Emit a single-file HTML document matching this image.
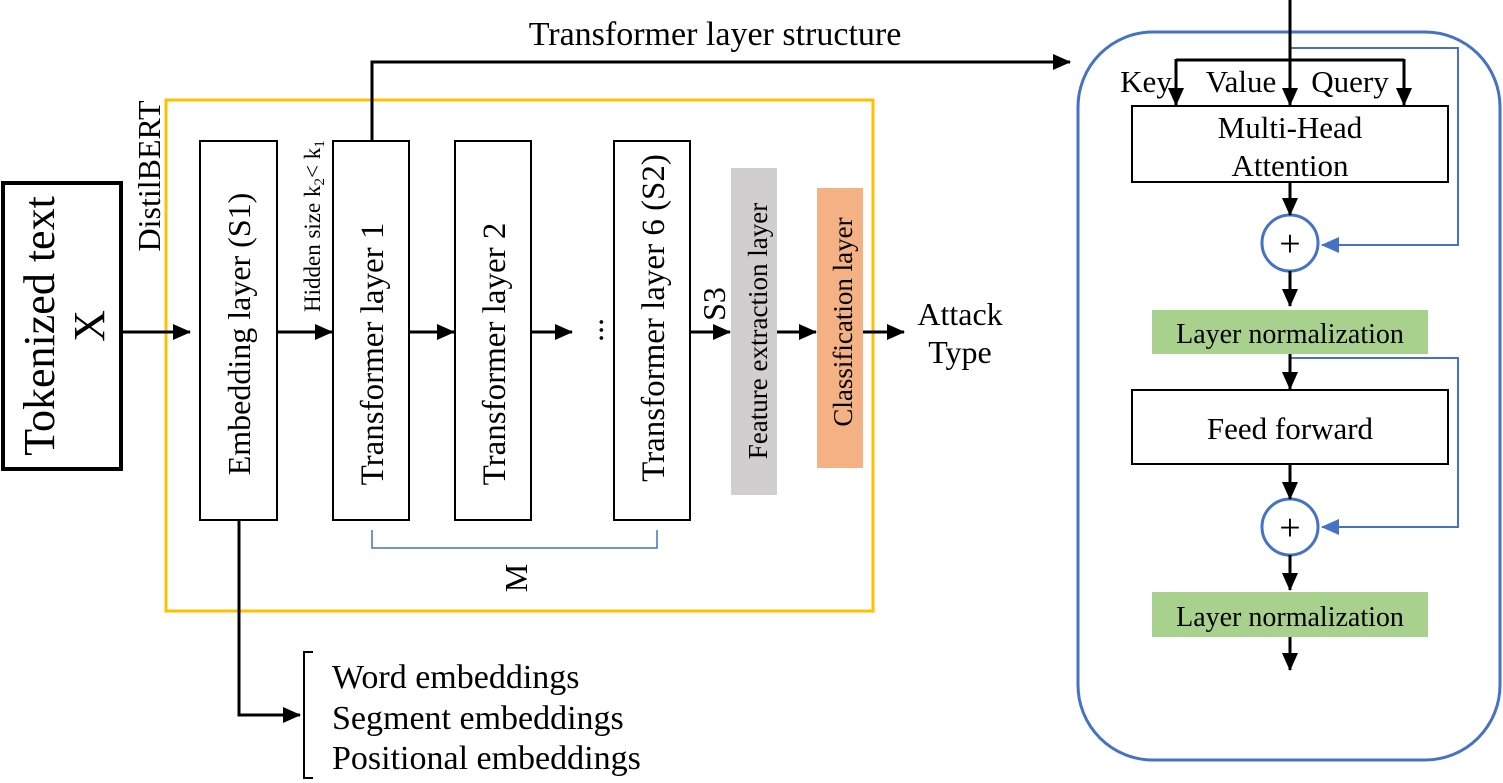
<!DOCTYPE html>
<html><head><style>body{margin:0;background:#fff}svg{display:block}text{font-family:"Liberation Serif",serif;fill:#000}</style></head><body>
<svg width="1503" height="783" viewBox="0 0 1503 783" xmlns="http://www.w3.org/2000/svg">
<defs>
<marker id="ab" markerWidth="18" markerHeight="18" refX="17" refY="9" orient="auto" markerUnits="userSpaceOnUse" viewBox="0 0 18 18"><path d="M0,1L18,9L0,17z" fill="#000"/></marker>
<marker id="bb" markerWidth="18" markerHeight="18" refX="17" refY="9" orient="auto" markerUnits="userSpaceOnUse" viewBox="0 0 18 18"><path d="M0,1L18,9L0,17z" fill="#4472c4"/></marker>
</defs>
<g stroke="#000" stroke-width="3" fill="none">
<rect x="3" y="183" width="118" height="286" stroke-width="4"/>
<rect x="166" y="100" width="707" height="511" stroke="#ffc000" stroke-width="3"/>
<rect x="200" y="141" width="77" height="379" stroke-width="2"/>
<rect x="333" y="141" width="76" height="379" stroke-width="2"/>
<rect x="455" y="141" width="76" height="379" stroke-width="2"/>
<rect x="614" y="141" width="76" height="379" stroke-width="2"/>
<line x1="121" y1="332" x2="190" y2="332" marker-end="url(#ab)"/>
<line x1="277" y1="332" x2="332" y2="332" marker-end="url(#ab)"/>
<line x1="409" y1="332" x2="454" y2="332" marker-end="url(#ab)"/>
<line x1="531" y1="332" x2="572" y2="332" marker-end="url(#ab)"/>
<line x1="690" y1="332" x2="730" y2="332" marker-end="url(#ab)"/>
<line x1="777" y1="332" x2="816" y2="332" marker-end="url(#ab)"/>
<line x1="863" y1="332" x2="904" y2="332" marker-end="url(#ab)"/>
<polyline points="372,141 372,62 1070,62" marker-end="url(#ab)"/>
<polyline points="239,520 239,715 300,715" marker-end="url(#ab)"/>
<polyline points="313,652 304,652 304,778 313,778" stroke-width="2"/>
</g>
<rect x="731" y="168" width="46" height="327" fill="#d0cece"/>
<rect x="817" y="188" width="46" height="280" fill="#f4b183"/>
<path d="M372,530 v18 h285 v-18" stroke="#4472c4" stroke-width="1.5" fill="none"/>
<g font-size="44" text-anchor="middle">
<text transform="translate(54,326) rotate(-90)">Tokenized text</text>
<text transform="translate(104,326) rotate(-90)">X</text>
</g>
<g font-size="32" text-anchor="middle">
<text transform="translate(160,176) rotate(-90)">DistilBERT</text>
<text transform="translate(250,334) rotate(-90)">Embedding layer (S1)</text>
<text transform="translate(383,354) rotate(-90)" font-size="33">Transformer layer 1</text>
<text transform="translate(505,354) rotate(-90)" font-size="33">Transformer layer  2</text>
<text transform="translate(664,318) rotate(-90)" font-size="33">Transformer layer  6 (S2)</text>
<text transform="translate(603,330) rotate(-90)">...</text>
<text transform="translate(725,304) rotate(-90)">S3</text>
<text transform="translate(767,331) rotate(-90)" font-size="27">Feature extraction layer</text>
<text transform="translate(852,322) rotate(-90)" font-size="27">Classification layer</text>
<text x="960" y="325">Attack</text>
<text x="960" y="363">Type</text>
<text x="715" y="45" font-size="34">Transformer layer structure</text>
<text transform="translate(527,578) rotate(-90)">M</text>
</g>
<text transform="translate(320,312) rotate(-90)" font-size="23">Hidden size k<tspan font-size="15" dy="4">2</tspan><tspan dy="-4">&lt; k</tspan><tspan font-size="15" dy="4">1</tspan></text>
<g font-size="34">
<text x="332" y="688">Word embeddings</text>
<text x="332" y="729">Segment embeddings</text>
<text x="332" y="769">Positional embeddings</text>
</g>
<rect x="1078" y="32" width="422" height="728" rx="75" fill="none" stroke="#4472c4" stroke-width="3"/>
<g stroke="#4472c4" stroke-width="2" fill="none">
<polyline points="1290,48 1458,48 1458,245 1322,245" marker-end="url(#bb)"/>
<polyline points="1290,358 1458,358 1458,527 1322,527" marker-end="url(#bb)"/>
<circle cx="1290" cy="243" r="28" stroke-width="3"/>
<circle cx="1290" cy="527" r="28" stroke-width="3"/>
</g>
<g stroke="#000" stroke-width="3" fill="none">
<line x1="1290" y1="0" x2="1290" y2="105" marker-end="url(#ab)"/>
<polyline points="1176,60 1404,60" />
<line x1="1176" y1="59" x2="1176" y2="105" marker-end="url(#ab)"/>
<line x1="1404" y1="59" x2="1404" y2="105" marker-end="url(#ab)"/>
<rect x="1132" y="106" width="316" height="76" stroke-width="2"/>
<line x1="1290" y1="182" x2="1290" y2="215" marker-end="url(#ab)"/>
<line x1="1290" y1="271" x2="1290" y2="306" marker-end="url(#ab)"/>
<line x1="1290" y1="354" x2="1290" y2="389" marker-end="url(#ab)"/>
<rect x="1132" y="390" width="316" height="74" stroke-width="2"/>
<line x1="1290" y1="464" x2="1290" y2="499" marker-end="url(#ab)"/>
<line x1="1290" y1="555" x2="1290" y2="590" marker-end="url(#ab)"/>
<line x1="1290" y1="637" x2="1290" y2="670" marker-end="url(#ab)"/>
</g>
<rect x="1152" y="310" width="276" height="44" fill="#a9d18e"/>
<rect x="1152" y="592" width="276" height="45" fill="#a9d18e"/>
<g font-size="31" text-anchor="middle">
<text x="1146" y="92">Key</text>
<text x="1241" y="92">Value</text>
<text x="1350" y="92">Query</text>
<text x="1290" y="138">Multi-Head</text>
<text x="1290" y="176">Attention</text>
<text x="1290" y="439">Feed forward</text>
<text x="1290" y="343" font-size="28">Layer normalization</text>
<text x="1290" y="626" font-size="28">Layer normalization</text>
<text x="1290" y="256" font-size="38">+</text>
<text x="1290" y="540" font-size="38">+</text>
</g>
</svg>
</body></html>
